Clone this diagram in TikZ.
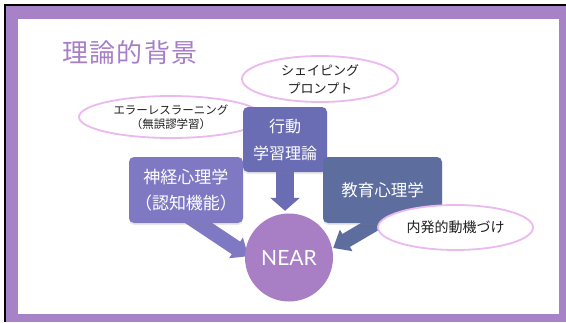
\documentclass[tikz,border=0pt]{standalone}
\usepackage{fontspec}
\setmainfont{Noto Sans CJK JP}
\newfontfamily\latfont{Lato}
\usetikzlibrary{shapes.geometric,arrows.meta,calc,shadows}
\pgfdeclarelayer{arrowlayer}
\pgfdeclarelayer{backnotes}
\pgfsetlayers{backnotes,arrowlayer,main}
\definecolor{framepurple}{HTML}{A882C6}
\definecolor{titlepurple}{HTML}{A77FC6}
\definecolor{kodocol}{HTML}{6A6DB3}
\definecolor{shinkeicol}{HTML}{7F79C3}
\definecolor{kyoikucol}{HTML}{5C6D9E}
\definecolor{nearcol}{HTML}{A87EC4}
\definecolor{notepink}{HTML}{EBB9F0}
\definecolor{notetext}{HTML}{1E1E1E}
\begin{document}
\begin{tikzpicture}[x=1pt,y=-1pt,
  box/.style={rectangle, rounded corners=5pt, inner sep=0pt, text=white, align=center,
    drop shadow={opacity=0.18, shadow xshift=0pt, shadow yshift=-2pt}},
  note/.style={ellipse, draw=notepink, line width=1.8pt, fill=white, inner sep=0pt,
    text=notetext, align=center},
]
\useasboundingbox (0,0) rectangle (566,322);
% frame
\begin{pgfonlayer}{backnotes}
\fill[framepurple] (5,5) rectangle (566,322);
\draw[black, line width=1.4pt] (5,322) -- (5,5) -- (566,5);
\fill[white] (18,19) rectangle (559,314);

% title
\node[anchor=west, text=titlepurple, inner sep=0pt,
  font=\fontsize{26}{30}\selectfont\addfontfeatures{LetterSpace=5}] (title) at (62,52.5) {理論的背景};

% note behind kodo box
\node[note, minimum width=184pt, minimum height=42pt,
  font=\fontsize{11.5}{13.5}\selectfont] (errorless) at (171,117)
  {エラーレスラーニング\\（無誤謬学習）};
\end{pgfonlayer}

% boxes
\node[box, fill=kodocol, minimum width=84pt, minimum height=65pt,
  font=\fontsize{16}{27}\selectfont] (kodo) at (285,139.5) {行動\\学習理論};
\node[box, fill=shinkeicol, minimum width=114pt, minimum height=66pt,
  font=\fontsize{17}{26}\selectfont] (shinkei) at (186,190) {神経心理学\\（認知機能）};
\node[box, fill=kyoikucol, minimum width=119pt, minimum height=66pt,
  font=\fontsize{16.5}{20}\selectfont] (kyoiku) at (382.5,190) {教育心理学};
\node[circle, fill=nearcol, minimum size=88pt, inner sep=0pt, text=white,
  font=\latfont\fontsize{21}{24}\selectfont] (near) at (289,257.5) {NEAR};

% arrow coordinates
\coordinate (l1) at ($(shinkei.south)+(0.5,-8.3)$);
\coordinate (l2) at ($(near.west)+(3.6,-1.3)$);
\coordinate (d1) at (kodo.center);
\coordinate (d2) at ($(kodo.south |- near.north)+(0,-2.5)$);
\coordinate (r1) at ($(kyoiku.south)+(15.2,-13)$);
\coordinate (r2) at ($(near.east)+(0,-9.5)$);

% block arrows behind boxes and circle
\begin{pgfonlayer}{arrowlayer}
\draw[shinkeicol, line width=15pt, -{Triangle[width=24pt,length=15pt]}] (l1) -- (l2);
\draw[kodocol, line width=18pt, -{Triangle[width=29pt,length=13pt]}] (d1) -- (d2);
\draw[kyoikucol, line width=15pt, -{Triangle[width=24pt,length=15pt]}] (r1) -- (r2);
\end{pgfonlayer}

% notes on top
\node[note, minimum width=156pt, minimum height=46pt,
  font=\fontsize{13}{18}\selectfont] (shaping) at (320,79)
  {シェイピング\\プロンプト};
\node[note, minimum width=155pt, minimum height=45pt,
  font=\fontsize{14}{16}\selectfont] (naihatsu) at (455.5,227.5)
  {内発的動機づけ};
\end{tikzpicture}
\end{document}
